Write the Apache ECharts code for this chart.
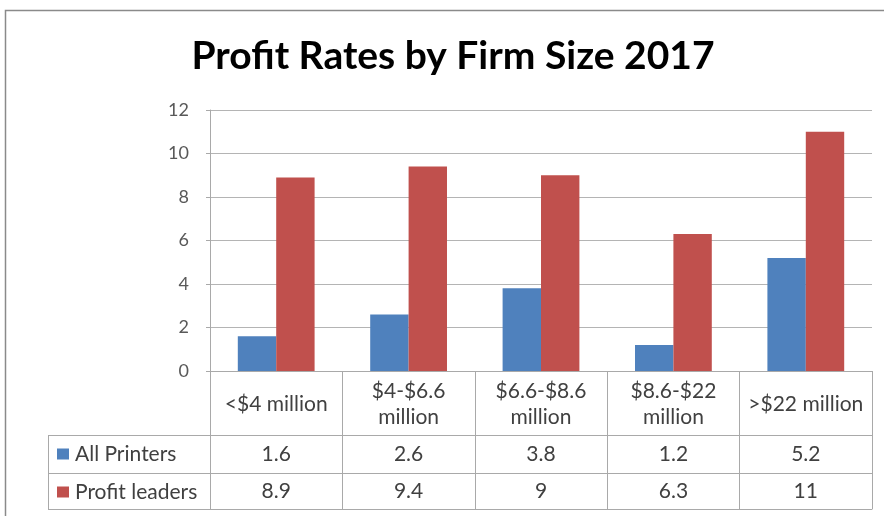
<!DOCTYPE html>
<html>
<head>
<meta charset="utf-8">
<script src="https://cdn.jsdelivr.net/npm/echarts@6/dist/echarts.min.js"></script>
<style>
html,body{margin:0;padding:0;background:#fff;}
#c{width:884px;height:516px;}
</style>
</head>
<body>
<div id="c"></div>
<script>
var titleText = 'Profit Rates by Firm Size 2017';
var categories = ['<$4 million', '$4-$6.6\nmillion', '$6.6-$8.6\nmillion', '$8.6-$22\nmillion', '>$22 million'];
var seriesNames = ['All Printers', 'Profit leaders'];
var allPrinters = [1.6, 2.6, 3.8, 1.2, 5.2];
var profitLeaders = [8.9, 9.4, 9, 6.3, 11];
var colors = ['#4F81BD', '#C0504D'];

var FONT = 'Lato';
var G = {left: 210, right: 12, top: 110, bottom: 145};
var W = 884, H = 516;
var plotBottom = H - G.bottom;
var row1 = plotBottom + 64, row2 = plotBottom + 102, row3 = plotBottom + 138;
var tableLeft = 48;
var lineCol = '#a9a9a9';
var TXT = '#404040';
var FS = 21;

var chart = echarts.init(document.getElementById('c'), null, {renderer: 'canvas'});
var tableAxis = function (offset, values, margin, showLabel) {
  return {
    type: 'category', gridIndex: 0, position: 'bottom', offset: offset,
    data: categories,
    axisLine: {show: true, lineStyle: {color: lineCol, width: 1}},
    axisTick: {show: false},
    axisLabel: {
      show: showLabel, interval: 0, margin: margin, verticalAlign: 'middle',
      fontFamily: FONT, fontSize: FS, color: TXT,
      formatter: function (v, i) { return values ? String(values[i]) : ''; }
    },
    splitLine: {show: false}
  };
};
chart.setOption({
  animation: false,
  backgroundColor: '#fff',
  title: {
    text: titleText, left: 448, textAlign: 'center', top: 32,
    textStyle: {fontFamily: FONT, fontWeight: 'bold', fontSize: 39, color: '#000'}
  },
  legend: {
    orient: 'vertical', left: 57, top: plotBottom + 72, padding: 0,
    itemWidth: 12, itemHeight: 11, itemGap: 16, icon: 'rect',
    data: seriesNames,
    textStyle: {fontFamily: FONT, fontSize: FS, color: TXT, lineHeight: 22, padding: [0, 0, 0, 1]}
  },
  grid: {left: G.left, right: G.right, top: G.top, bottom: G.bottom},
  xAxis: [
    {
      type: 'category', data: categories, position: 'bottom',
      axisLine: {show: true, lineStyle: {color: lineCol}},
      axisTick: {show: true, length: 138, lineStyle: {color: lineCol}},
      axisLabel: {interval: 0, margin: 33, verticalAlign: 'middle', lineHeight: 26,
        fontFamily: FONT, fontSize: FS, color: TXT},
      splitLine: {show: false}
    },
    tableAxis(64, allPrinters, 19, true),
    tableAxis(102, profitLeaders, 18, true),
    tableAxis(138, null, 10, false)
  ],
  yAxis: {
    type: 'value', min: 0, max: 12, interval: 2,
    axisLine: {show: true, lineStyle: {color: lineCol}},
    axisTick: {show: true, length: 4, lineStyle: {color: lineCol}},
    axisLabel: {fontFamily: FONT, fontSize: 18, color: '#595959', margin: 21},
    splitLine: {show: true, lineStyle: {color: '#b4b4b4'}}
  },
  series: [
    {name: seriesNames[0], type: 'bar', data: allPrinters, itemStyle: {color: colors[0]}, barGap: '0%', barCategoryGap: '42%'},
    {name: seriesNames[1], type: 'bar', data: profitLeaders, itemStyle: {color: colors[1]}, barGap: '0%', barCategoryGap: '42%'}
  ],
  graphic: [
    {type: 'rect', shape: {x: 5.5, y: 10.5, width: 900, height: 520}, style: {fill: null, stroke: '#8a8a8a', lineWidth: 1.5}, silent: true},
    {type: 'line', shape: {x1: tableLeft + 0.5, y1: row1, x2: tableLeft + 0.5, y2: row3}, style: {stroke: lineCol, lineWidth: 1}, silent: true},
    {type: 'line', shape: {x1: tableLeft, y1: row1 + 0.5, x2: G.left, y2: row1 + 0.5}, style: {stroke: lineCol, lineWidth: 1}, silent: true},
    {type: 'line', shape: {x1: tableLeft, y1: row2 + 0.5, x2: G.left, y2: row2 + 0.5}, style: {stroke: lineCol, lineWidth: 1}, silent: true},
    {type: 'line', shape: {x1: tableLeft, y1: row3 + 0.5, x2: G.left, y2: row3 + 0.5}, style: {stroke: lineCol, lineWidth: 1}, silent: true}
  ]
});
</script>
</body>
</html>
